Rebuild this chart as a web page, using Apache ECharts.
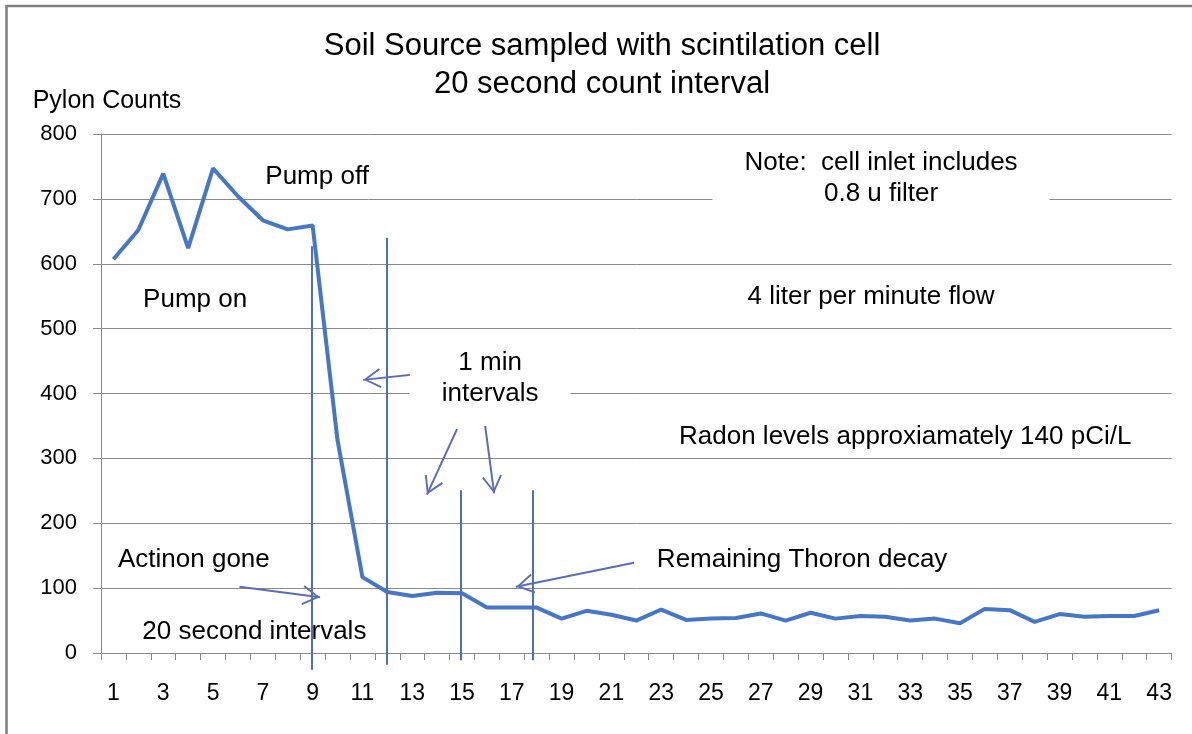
<!DOCTYPE html>
<html>
<head>
<meta charset="utf-8">
<script src="https://cdn.jsdelivr.net/npm/echarts@6/dist/echarts.min.js"></script>
<style>
html,body{margin:0;padding:0;background:#fff;}
#chart{width:1192px;height:734px;}
</style>
</head>
<body>
<div id="chart"></div>
<script>
// ---- data ----
const categories = ['1','2','3','4','5','6','7','8','9','10','11','12','13','14','15','16','17','18','19','20','21','22','23','24','25','26','27','28','29','30','31','32','33','34','35','36','37','38','39','40','41','42','43'];
const counts = [607, 652, 739, 624, 747, 704, 667, 653, 659, 328, 117, 94, 88, 93, 92, 70, 70, 70, 53, 65, 59, 50, 67, 51, 53, 54, 61, 50, 62, 53, 57, 56, 50, 53, 46, 68, 66, 48, 60, 56, 57, 57, 66];
const titleLines = ['Soil Source sampled with scintilation cell', '20 second count interval'];
const yAxisName = 'Pylon Counts';
// hand-drawn guide lines, in data units [x1, y1, x2, y2]
const guideLines = [[8.96, 627, 8.96, -26], [11.96, 640, 11.96, -18], [14.94, 251, 14.94, -11], [17.84, 251, 17.84, -11]];
// arrows, in data units [fromX, fromY, toX, toY]
const arrows = [[14.0, 433, 11.03, 421], [14.80, 345, 13.59, 244], [15.93, 350, 16.29, 246], [6.06, 102, 9.30, 86], [21.91, 139, 17.17, 102]];
// text notes, in data units [text, x, y]
const notes = [
  ['Pump off', 9.18, 734],
  ['Pump on', 4.28, 544],
  ['4 liter per minute flow', 31.43, 549],
  ['Radon levels approxiamately 140 pCi/L', 32.8, 333],
  ['Actinon gone', 4.23, 143],
  ['20 second intervals', 6.66, 33],
  ['Remaining Thoron decay', 28.66, 143]
];
const boxedNotes = [
  ['Note:  cell inlet includes\n0.8 u filter', 31.83, 732],
  ['1 min\nintervals', 16.13, 424]
];

// ---- chart ----
const FONT = '"Liberation Sans", Arial, sans-serif';
const GRID_COLOR = '#8a8a8a';
const chevron = 'path://M10,18 L20,34.5 L18.3,35.5 L10,21.5 L1.7,35.5 L0,34.5 Z M10,0 L10,0.01';
const chart = echarts.init(document.getElementById('chart'), null, {renderer: 'canvas'});

const markLineData = [];
guideLines.forEach(g => {
  markLineData.push([
    {coord: [g[0], g[1]], symbol: 'none', lineStyle: {color: '#4a6fc6', width: 2, type: 'solid'}},
    {coord: [g[2], g[3]], symbol: 'none'}
  ]);
});
arrows.forEach(a => {
  markLineData.push([
    {coord: [a[0], a[1]], symbol: 'none', lineStyle: {color: '#5b6db4', width: 2, type: 'solid'}},
    {coord: [a[2], a[3]], symbol: chevron, symbolSize: [20, 35.5]}
  ]);
});

const markPointData = [];
notes.forEach(n => {
  markPointData.push({name: n[0], coord: [n[1], n[2]]});
});
boxedNotes.forEach(n => {
  markPointData.push({
    name: n[0], coord: [n[1], n[2]],
    label: {backgroundColor: '#ffffff', padding: [2, 32]}
  });
});

const option = {
  animation: false,
  backgroundColor: '#ffffff',
  title: {
    text: titleLines.join('\n'),
    left: 602,
    top: 27,
    padding: 0,
    textAlign: 'center',
    textStyle: {fontSize: 31, fontWeight: 'normal', color: '#000', lineHeight: 38, fontFamily: FONT}
  },
  graphic: [{
    type: 'rect', silent: true,
    shape: {x: 6.5, y: 6, width: 1400, height: 1000},
    style: {fill: 'none', stroke: '#7f7f7f', lineWidth: 2.5}
  }],
  grid: [
    {left: 101, right: 20.4, top: 134, bottom: 81},
    {left: 101, right: 20.4, top: 134, bottom: 16.125}
  ],
  xAxis: [{
    type: 'category', gridIndex: 0, data: categories, boundaryGap: true,
    axisLine: {show: true, lineStyle: {color: GRID_COLOR, width: 1}},
    axisTick: {show: true, interval: 0, length: 7, lineStyle: {color: GRID_COLOR}},
    axisLabel: {interval: 1, fontSize: 23, color: '#000', margin: 29, fontFamily: FONT},
    splitLine: {show: false}
  }, {
    type: 'value', gridIndex: 1, min: 0.5, max: 43.5, show: false
  }],
  yAxis: [{
    type: 'value', gridIndex: 0, min: 0, max: 800, interval: 100,
    name: yAxisName, nameLocation: 'end', nameGap: 33,
    nameTextStyle: {fontSize: 25, color: '#000', fontFamily: FONT, align: 'center', verticalAlign: 'middle', padding: [0, 0, 0, 12]},
    axisLine: {show: true, lineStyle: {color: GRID_COLOR, width: 1}},
    axisTick: {show: true, length: 8, lineStyle: {color: GRID_COLOR}},
    axisLabel: {fontSize: 22, color: '#000', margin: 24, fontFamily: FONT},
    splitLine: {show: true, lineStyle: {color: GRID_COLOR, width: 1}}
  }, {
    type: 'value', gridIndex: 1, min: -100, max: 800, show: false
  }],
  series: [{
    type: 'line', xAxisIndex: 0, yAxisIndex: 0,
    data: counts, symbol: 'none', smooth: false,
    lineStyle: {color: '#4677c6', width: 4},
    itemStyle: {color: '#4677c6'},
    z: 3
  }, {
    type: 'line', xAxisIndex: 1, yAxisIndex: 1, data: [], silent: true, z: 4,
    markLine: {
      silent: true, animation: false,
      symbol: ['none', 'none'],
      label: {show: false},
      emphasis: {disabled: true},
      data: markLineData
    },
    markPoint: {
      silent: true, animation: false,
      symbol: 'rect', symbolSize: 1,
      itemStyle: {color: 'rgba(0,0,0,0)'},
      label: {show: true, position: 'inside', formatter: '{b}', color: '#000', fontSize: 26, lineHeight: 31, fontFamily: FONT, align: 'center'},
      emphasis: {disabled: true},
      data: markPointData
    }
  }]
};
chart.setOption(option);
</script>
</body>
</html>
